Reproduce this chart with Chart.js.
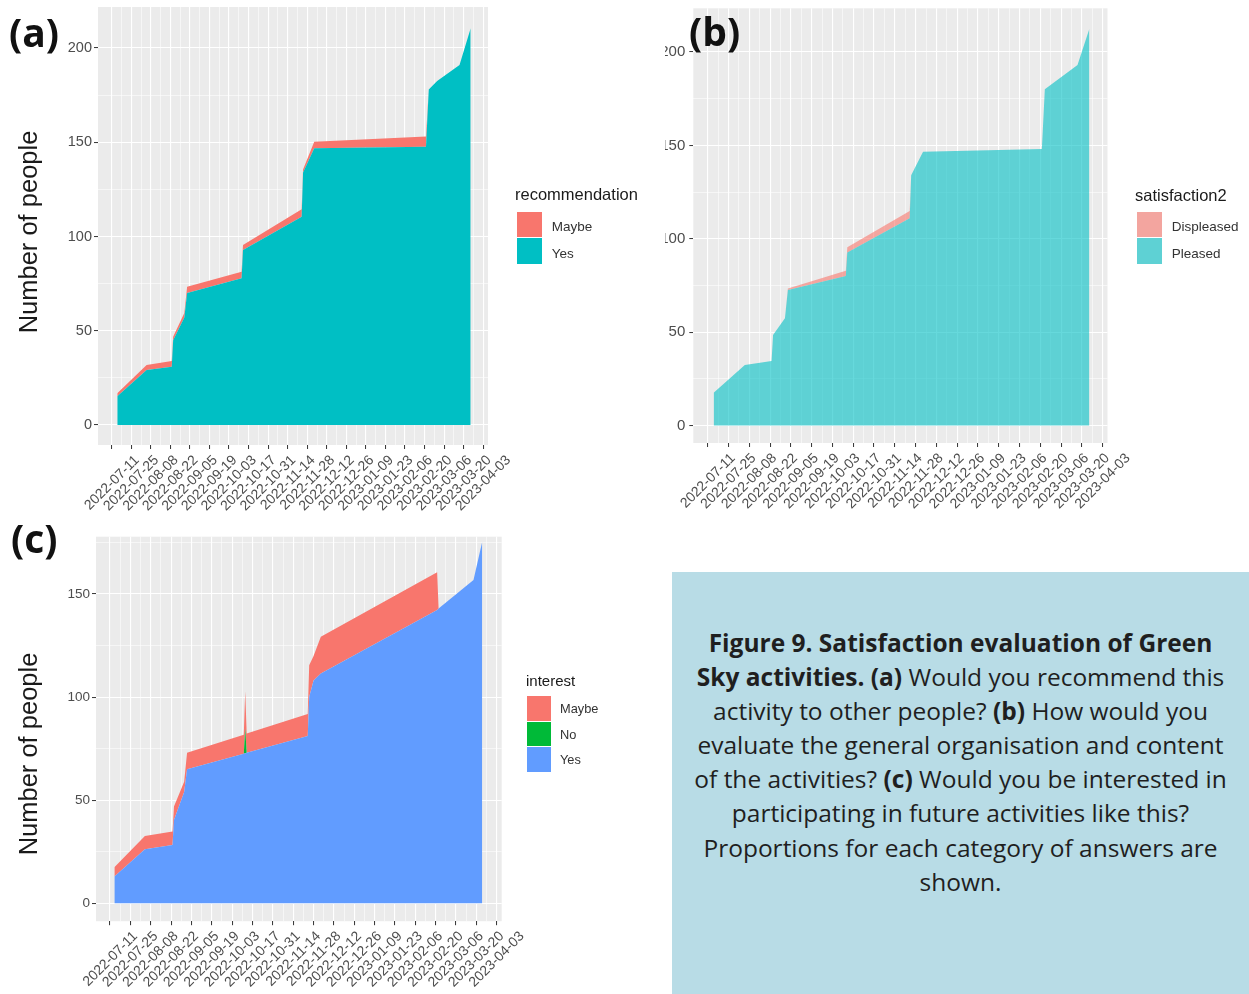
<!DOCTYPE html>
<html><head><meta charset="utf-8">
<script src="https://cdn.jsdelivr.net/npm/chart.js@4.4.1/dist/chart.umd.min.js"></script>
<style>
html,body{margin:0;padding:0;background:#fff;}
body{width:1249px;height:994px;overflow:hidden;position:relative;font-family:'Liberation Sans',Arial,sans-serif;}
canvas{position:absolute;}
.tag{position:absolute;font-family:'Open Sans',sans-serif;font-weight:700;font-size:39px;line-height:39px;color:#111;z-index:5;}
.ytitle{position:absolute;transform:translate(-50%,-50%) rotate(-90deg);white-space:nowrap;font-size:25.5px;line-height:26px;color:#1a1a1a;}
.lt{position:absolute;white-space:nowrap;color:#1a1a1a;}
.lk{position:absolute;}
.ll{position:absolute;white-space:nowrap;color:#333;}
#box{position:absolute;left:672px;top:572px;width:577px;height:422px;background:#B8DCE6;}
#box .txt{position:absolute;left:0;top:54px;width:577px;text-align:center;font-family:'Open Sans',sans-serif;font-size:24.5px;line-height:34.1px;color:#1f1f1f;white-space:nowrap;}
</style></head>
<body>
<canvas id="ca" width="520" height="525" style="left:0;top:0"></canvas>
<canvas id="cb" width="475" height="525" style="left:665px;top:0"></canvas>
<canvas id="cc" width="540" height="464" style="left:0;top:530px"></canvas>

<div class="tag" style="left:9px;top:12px">(a)</div>
<div class="tag" style="left:689px;top:11px">(b)</div>
<div class="tag" style="left:11px;top:518px">(c)</div>

<div class="ytitle" style="left:28px;top:232px">Number of people</div>
<div class="ytitle" style="left:28px;top:754px">Number of people</div>

<div id="legends"></div>

<div id="box"><div class="txt"><b>Figure 9. Satisfaction evaluation of Green</b><br><b>Sky activities. (a)</b> Would you recommend this<br>activity to other people? <b>(b)</b> How would you<br>evaluate the general organisation and content<br>of the activities? <b>(c)</b> Would you be interested in<br>participating in future activities like this?<br>Proportions for each category of answers are<br>shown.</div></div>

<script>
// ---------------- DATA ----------------
const xTickLabels = ['2022-07-11','2022-07-25','2022-08-08','2022-08-22','2022-09-05','2022-09-19','2022-10-03','2022-10-17','2022-10-31','2022-11-14','2022-11-28','2022-12-12','2022-12-26','2023-01-09','2023-01-23','2023-02-06','2023-02-20','2023-03-06','2023-03-20','2023-04-03'];
const yTicksAB = [0,50,100,150,200];
const yTicksC = [0,50,100,150];

// (a) recommendation
const datesA = ['2022-07-15','2022-08-05','2022-08-23','2022-08-24','2022-09-01','2022-09-03','2022-10-12','2022-10-13','2022-11-24','2022-11-25','2022-12-03','2023-02-21','2023-02-23','2023-03-01','2023-03-17','2023-03-25'];
const recYes   = [15.3,29.2,30.9,45,57,70,77.8,92.8,110.5,134,146.8,147.6,178,182.5,191,210.5];
const recMaybe = [1.5,2.6,3.1,1.8,2.4,3.4,3.5,2.7,3.9,1.5,3.5,5.4,0,0,0,0];

// (b) satisfaction2
const datesB = ['2022-07-15','2022-08-05','2022-08-23','2022-08-24','2022-09-01','2022-09-03','2022-10-12','2022-10-13','2022-11-24','2022-11-25','2022-12-03','2023-02-21','2023-02-23','2023-03-17','2023-03-25'];
const satPleased    = [17.5,32.4,34.5,48.5,57.4,72.6,80,92.7,111,134,146.6,148,180,193,212.5];
const satDispleased = [0,0,0,0,0,0.8,2.9,2.7,3.9,0,0,0,0,0,0];

// (c) interest
const datesC = ['2022-07-14','2022-08-04','2022-08-23','2022-08-24','2022-08-31','2022-09-02','2022-10-11','2022-10-12','2022-10-13','2022-11-24','2022-11-25','2022-11-28','2022-12-03','2023-02-21','2023-02-22','2023-03-18','2023-03-24'];
const intYes   = [13,26.2,28.3,40.4,54,65,72.5,72.8,73,81.2,100,108,111.5,142.3,143,156.8,175.4];
const intNo    = [0,0,0,0,0,0,0,12,0,0,0,0,0,0,0,0,0];
const intMaybe = [4.5,6.5,6.5,6.5,5,8,9.3,18,9.4,10.6,15.5,12,17.8,18.2,0,0,0];

// ---------------- HELPERS ----------------
const D0 = Date.UTC(2022,6,11);
function dnum(s){const p=s.split('-').map(Number);return Math.round((Date.UTC(p[0],p[1]-1,p[2])-D0)/86400000);}
const majorX = xTickLabels.map(dnum);
const labelMap = {}; xTickLabels.forEach(l=>labelMap[dnum(l)]=l);
const weekTicks = []; for(let d=majorX[0]; d<=majorX[majorX.length-1]; d+=7) weekTicks.push(d);
const pts = (dates, vals) => dates.map((d,i)=>({x:dnum(d), y:vals[i]}));
const FONT = "'Liberation Sans', Arial, sans-serif";

const bgPlugin = {id:'panelbg', beforeDraw(chart){const a=chart.chartArea, c=chart.ctx; c.save(); c.fillStyle='#EBEBEB'; c.fillRect(a.left,a.top,a.right-a.left,a.bottom-a.top); c.restore();}};

function area(label, dates, vals, color, fill){
  return {label, data:pts(dates,vals), backgroundColor:color, borderColor:'rgba(0,0,0,0)', borderWidth:0, pointRadius:0, fill, tension:0};
}

function options(p){
  const yMajor = p.yMajor;
  const yAll = []; for(let v=0; v<=p.ymax; v+=25) yAll.push(v);
  return {
    responsive:false, animation:false, devicePixelRatio:1,
    layout:{padding:{top:p.padTop,right:p.padRight,left:0,bottom:0}},
    plugins:{legend:{display:false},tooltip:{enabled:false}},
    scales:{
      x:{type:'linear', min:p.xmin, max:p.xmax,
        afterBuildTicks(s){ s.ticks = weekTicks.map(v=>({value:v})); },
        afterFit(s){ s.height = p.xh; s.paddingLeft = 0; s.paddingRight = 0; },
        border:{display:false},
        grid:{color:'#FFFFFF', lineWidth:c=>labelMap[c.tick.value]?1.1:0.55,
              tickColor:c=>labelMap[c.tick.value]?'#333333':'rgba(0,0,0,0)', tickLength:4, tickWidth:1},
        ticks:{autoSkip:false, minRotation:45, maxRotation:45, labelOffset:p.lo, padding:p.tp,
               color:'#4D4D4D', font:{family:FONT,size:p.xfs},
               callback:v=>labelMap[v]||''}
      },
      y:{stacked:true, min:p.ymin, max:p.ymax,
        afterBuildTicks(s){ s.ticks = yAll.map(v=>({value:v})); },
        afterFit(s){ s.width = p.yw; s.paddingTop = 0; s.paddingBottom = 0; },
        border:{display:false},
        grid:{color:'#FFFFFF', lineWidth:c=>yMajor.includes(c.tick.value)?1.1:0.55,
              tickColor:c=>yMajor.includes(c.tick.value)?'#333333':'rgba(0,0,0,0)', tickLength:4, tickWidth:1},
        ticks:{padding:p.yp, color:'#4D4D4D', font:{family:FONT,size:p.yfs},
               callback:v=>yMajor.includes(v)?String(v):''}
      }
    }
  };
}

// (a)
new Chart(document.getElementById('ca'), {
  type:'line',
  data:{datasets:[
    area('Yes', datesA, recYes, '#00BFC4', 'origin'),
    area('Maybe', datesA, recMaybe, '#F8766D', '-1')
  ]},
  options:options({padTop:7,padRight:32,yw:98,xh:80,xmin:-9.8,xmax:269.4,ymin:-10.6,ymax:221.75,yMajor:yTicksAB,xfs:14,yfs:14.5,yp:2,lo:25.3,tp:3}),
  plugins:[bgPlugin]
});
// (b)
new Chart(document.getElementById('cb'), {
  type:'line',
  data:{datasets:[
    area('Pleased', datesB, satPleased, 'rgba(0,191,196,0.6)', 'origin'),
    area('Displeased', datesB, satDispleased, 'rgba(248,118,109,0.6)', '-1')
  ]},
  options:options({padTop:8.3,padRight:32.5,yw:28.3,xh:82,xmin:-9.7,xmax:269.2,ymin:-9.37,ymax:223.4,yMajor:yTicksAB,xfs:14,yfs:15,yp:4,lo:25.3,tp:3}),
  plugins:[bgPlugin]
});
// (c)
new Chart(document.getElementById('cc'), {
  type:'line',
  data:{datasets:[
    area('Yes', datesC, intYes, '#619CFF', 'origin'),
    area('No', datesC, intNo, '#00BA38', '-1'),
    area('Maybe', datesC, intMaybe, '#F8766D', '-1')
  ]},
  options:options({padTop:6.7,padRight:38.3,yw:96,xh:72.8,xmin:-9.63,xmax:269.4,ymin:-8.68,ymax:177.8,yMajor:yTicksC,xfs:14,yfs:13.5,yp:2,lo:25.3,tp:3}),
  plugins:[bgPlugin]
});

// ---------------- LEGENDS ----------------
const legends = [
  {title:'recommendation', tx:515, ty:195, tfs:16.5, kx:516.7, kw:25, kh:26.6, ky:211.7, lx:551.7, lfs:13.5, ldy:3,
   items:[['Maybe','#F8766D'],['Yes','#00BFC4']]},
  {title:'satisfaction2', tx:1135, ty:196, tfs:16.5, kx:1136.7, kw:25, kh:26.6, ky:211.7, lx:1171.7, lfs:13.5, ldy:3,
   items:[['Displeased','rgba(248,118,109,0.6)'],['Pleased','rgba(0,191,196,0.6)']], under:'#EBEBEB'},
  {title:'interest', tx:526, ty:681, tfs:15, kx:526.7, kw:24, kh:25.5, ky:696, lx:560, lfs:12.8, ldy:2,
   items:[['Maybe','#F8766D'],['No','#00BA38'],['Yes','#619CFF']]}
];
const L = document.getElementById('legends');
legends.forEach(g=>{
  const t=document.createElement('div'); t.className='lt'; t.textContent=g.title;
  t.style.cssText=`left:${g.tx}px;top:${g.ty-g.tfs/2-1}px;font-size:${g.tfs}px;line-height:${g.tfs}px;`;
  L.appendChild(t);
  g.items.forEach((it,i)=>{
    const k=document.createElement('div'); k.className='lk';
    const top=g.ky+i*g.kh;
    k.style.cssText=`left:${g.kx}px;top:${top}px;width:${g.kw}px;height:${g.kh-1}px;background:${g.under||it[1]};`;
    if(g.under){const inner=document.createElement('div'); inner.style.cssText=`position:absolute;inset:0;background:${it[1]};`; k.appendChild(inner);}
    L.appendChild(k);
    const l=document.createElement('div'); l.className='ll'; l.textContent=it[0];
    const fs=g.lfs;
    l.style.cssText=`left:${g.lx}px;top:${top+g.kh/2-fs/2-1+g.ldy}px;font-size:${fs}px;line-height:${fs}px;`;
    L.appendChild(l);
  });
});
</script>
</body></html>
